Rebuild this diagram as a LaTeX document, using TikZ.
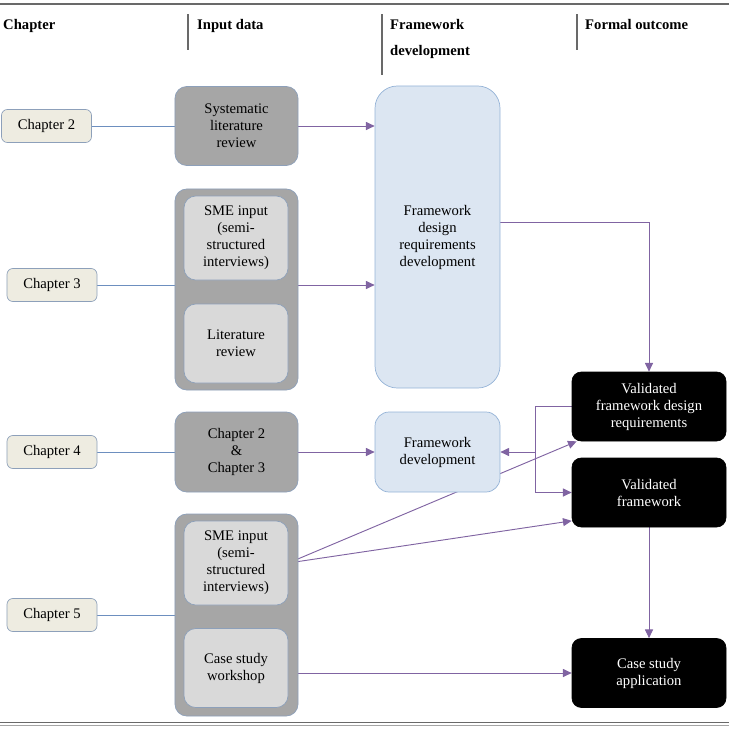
\documentclass[tikz,border=0pt]{standalone}
\usepackage{fontspec}
\setmainfont{Liberation Serif}
\usetikzlibrary{arrows.meta,backgrounds}

\definecolor    {chapterFill}{RGB}{238, 236, 225}
\definecolor   {chapterLine}{RGB}{141, 160, 186}
\definecolor      {inputFill}{RGB}{166, 166, 166}
\definecolor      {innerFill}{RGB}{217, 217, 217}
\definecolor  {frameworkFill}{RGB}{220, 230, 242}
\definecolor  {frameworkLine}{RGB}{149, 179, 215}
\definecolor      {linkColor}{RGB}{109, 143, 191}
\definecolor     {arrowColor}{RGB}{128, 100, 162}
\definecolor      {ruleColor}{RGB}{105, 105, 105}

\begin{document}
\begin{tikzpicture}[
  x=0.03cm, y=-0.03cm,
  font=\fontsize{12.5}{14.5}\selectfont,
  flow box/.style        ={align=center, inner sep=0pt, line width=0.6pt},
  flow chapter/.style    ={flow box, draw=chapterLine, fill=chapterFill,
                           rounded corners=5pt, minimum width=2.7cm, minimum height=0.99cm},
  flow input/.style      ={flow box, draw=chapterLine, fill=inputFill,
                           rounded corners=10pt, minimum width=3.69cm},
  flow inner/.style      ={flow box, draw=chapterLine, fill=innerFill,
                           rounded corners=10pt, minimum width=3.12cm},
  flow framework/.style  ={flow box, draw=frameworkLine, fill=frameworkFill,
                           minimum width=3.75cm},
  flow outcome/.style    ={flow box, draw=black, fill=black, text=white,
                           rounded corners=8pt, minimum width=4.62cm, minimum height=2.07cm},
  flow link/.style       ={draw=linkColor, line width=0.8pt},
  flow arrow/.style      ={draw=arrowColor, line width=0.8pt,
                           -{Triangle[length=2.6mm, width=2.4mm]}},
  head rule/.style       ={draw=ruleColor, line width=1.4pt},
  head text/.style       ={anchor=base west, font=\fontsize{12.5}{14.5}\selectfont\bfseries, inner sep=0pt},
]
%%%%%%%%%%%%%%%%%%%%%%%%%%%%%%%%%%%%%%%%%%%%%%%%%%%%%%%%%%%%%%%%%%%%%%%%%%%%%%%%%%%%%%%%%
%
%   HEADER
%
%%%%%%%%%%%%%%%%%%%%%%%%%%%%%%%%%%%%%%%%%%%%%%%%%%%%%%%%%%%%%%%%%%%%%%%%%%%%%%%%%%%%%%%%%
\useasboundingbox (0,0) rectangle (729,729);

\draw[head rule] (0,4) -- (729,4);
\draw[ruleColor, line width=0.7pt] (0,722) -- (729,722);
\draw[ruleColor!60, line width=0.7pt] (0,725) -- (729,725);

\node[head text] (hChapter)    at (3,29)   {Chapter};
\node[head text] (hInput)      at (197,29) {Input data};
\node[head text] (hFramework)  at (390,29) {Framework};
\node[head text] (hFramework2) at (390,55) {development};
\node[head text] (hOutcome)    at (585,29) {Formal outcome};

\foreach \barX/\barEnd in {188/50, 382/75, 577/50}
  \draw[ruleColor, line width=1.2pt] (\barX,14) -- (\barX,\barEnd);

%%%%%%%%%%%%%%%%%%%%%%%%%%%%%%%%%%%%%%%%%%%%%%%%%%%%%%%%%%%%%%%%%%%%%%%%%%%%%%%%%%%%%%%%%
%
%   BOXES
%
%%%%%%%%%%%%%%%%%%%%%%%%%%%%%%%%%%%%%%%%%%%%%%%%%%%%%%%%%%%%%%%%%%%%%%%%%%%%%%%%%%%%%%%%%
\node[flow chapter] (chTwo)   at (46.5,126) {Chapter 2};
\node[flow chapter] (chThree) at (52,285)   {Chapter 3};
\node[flow chapter] (chFour)  at (52,452)   {Chapter 4};
\node[flow chapter] (chFive)  at (52,615)   {Chapter 5};

% input data
\node[flow input, minimum height=2.37cm] (slr) at (236.5,126)
  {Systematic\\literature\\review};
\node[flow input, minimum height=6.03cm] (inThree) at (236.5,289.5) {};
\node[flow inner, minimum height=2.52cm] (smeThree) at (236,238)
  {SME input\\(semi-\\structured\\interviews)};
\node[flow inner, minimum height=2.37cm] (litRev) at (236,343.5)
  {Literature\\review};
\node[flow input, minimum height=2.4cm] (chTwoThree) at (236.5,452)
  {Chapter 2\\\&\\Chapter 3};
\node[flow input, minimum height=6.06cm] (inFive) at (236.5,615) {};
\node[flow inner, minimum height=2.52cm] (smeFive) at (236,563)
  {SME input\\(semi-\\structured\\interviews)};
\node[flow inner, minimum height=2.37cm] (caseWs) at (236,668)
  {Case study\\workshop};

% framework development
\node[flow framework, rounded corners=19pt, minimum height=9.06cm] (fdrd) at (437.5,237)
  {Framework\\design\\requirements\\development};
\node[flow framework, rounded corners=12pt, minimum height=2.4cm] (fd) at (437.5,452)
  {Framework\\development};

% formal outcome
\node[flow outcome] (vfdr) at (649,406.5) {Validated\\framework design\\requirements};
\node[flow outcome] (vf)   at (649,492.5) {Validated\\framework};
\node[flow outcome] (csa)  at (649,673)   {Case study\\application};

%%%%%%%%%%%%%%%%%%%%%%%%%%%%%%%%%%%%%%%%%%%%%%%%%%%%%%%%%%%%%%%%%%%%%%%%%%%%%%%%%%%%%%%%%
%
%   CONNECTORS
%
%%%%%%%%%%%%%%%%%%%%%%%%%%%%%%%%%%%%%%%%%%%%%%%%%%%%%%%%%%%%%%%%%%%%%%%%%%%%%%%%%%%%%%%%%
\coordinate (split) at (535,452);

\begin{pgfonlayer}{background}
  \draw[flow link] (chTwo)   -- (slr);
  \draw[flow link] (chThree) -- (chThree -| inThree.west);
  \draw[flow link] (chFour)  -- (chTwoThree);
  \draw[flow link] (chFive)  -- (chFive -| inFive.west);

  \draw[flow arrow] (slr) -- (slr -| fdrd.west);
  \draw[flow arrow] (chThree -| inThree.east) -- (chThree -| fdrd.west);
  \draw[flow arrow] (chTwoThree) -- (fd);
  \draw[flow arrow] ([yshift=0.45cm]fdrd.east) -| (vfdr.north);

  \draw[arrowColor, line width=0.8pt] (vfdr.west) -| (split);
  \draw[flow arrow] (split) |- (vf.west);
  \draw[flow arrow] (split) -- (fd.east);

  \draw[flow arrow] (smeFive.east) -- ([xshift=0.15cm]vfdr.south west);
  \draw[flow arrow] (smeFive.east) -- ([yshift=-0.85cm]vf.west);
  \draw[flow arrow] (csa -| caseWs.east) -- (csa.west);
  \draw[flow arrow] (vf) -- (csa);
\end{pgfonlayer}

\end{tikzpicture}
\end{document}
